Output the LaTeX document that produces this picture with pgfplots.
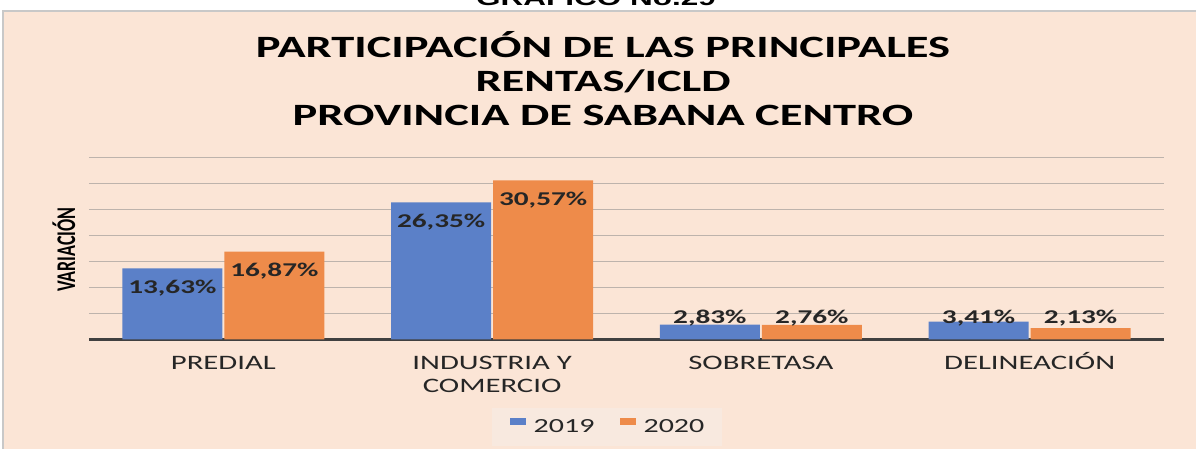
\documentclass[border=0pt]{standalone}
\usepackage{fontspec}
\setmainfont{Carlito}[FakeStretch=1.5]
\newfontfamily\plaincarlito{Carlito}
\newfontfamily\arialstretch{Liberation Sans}[FakeStretch=1.5]
\usepackage{graphicx}
\usepackage{pgfplots}
\pgfplotsset{compat=1.18}
\definecolor{peach}{HTML}{FBE5D6}
\definecolor{framegray}{HTML}{C8C8C8}
\definecolor{barblue}{HTML}{5B80C8}
\definecolor{barorange}{HTML}{EE8B4A}
\definecolor{gridgray}{HTML}{BDB3AC}
\definecolor{basegray}{HTML}{404040}
\definecolor{legbg}{HTML}{F8E9DF}
\definecolor{txt}{HTML}{262626}
\pgfplotsset{
  barlabels/.style={
    nodes near coords={\pgfmathprintnumber[fixed,fixed zerofill,precision=2,use comma,assume math mode=true]{\pgfplotspointmeta}\%},
    visualization depends on={rawy \as \rawy},
    every node near coord/.append style={anchor=center, text=txt,
      font=\bfseries\fontsize{9.75pt}{11pt}\selectfont,
      yshift={ifthenelse(\rawy>10,-10,(4-\rawy)*2.6)}},
  },
}
\begin{document}
\begin{tikzpicture}
\useasboundingbox (0pt,0pt) rectangle (598pt,224.5pt);
\clip (0pt,0pt) rectangle (598pt,224.5pt);
\fill[white] (0pt,0pt) rectangle (598pt,224.5pt);
\node[anchor=base, inner sep=0pt, font=\arialstretch\bfseries\fontsize{10.5pt}{12pt}\selectfont] at (298pt,221.75pt) {GRAFICO No.29};
\draw[framegray, line width=0.6pt, fill=peach] (1.5pt,219pt) rectangle (610pt,-10pt);
\node[anchor=base, inner sep=0pt, font=\bfseries\fontsize{15.5pt}{17pt}\selectfont] at (301.5pt,195.5pt) {PARTICIPACIÓN DE LAS PRINCIPALES};
\node[anchor=base, inner sep=0pt, font=\bfseries\fontsize{15.5pt}{17pt}\selectfont] at (301.5pt,178.5pt) {RENTAS/ICLD};
\node[anchor=base, inner sep=0pt, font=\bfseries\fontsize{15.5pt}{17pt}\selectfont] at (301.5pt,161.5pt) {PROVINCIA DE SABANA CENTRO};
\begin{axis}[
  at={(44.5pt,54.85pt)}, anchor=south west,
  scale only axis, width=537.5pt, height=91pt,
  xmin=-0.5, xmax=3.5, ymin=0, ymax=35,
  enlargelimits=false,
  ybar=1pt, bar width=50pt,
  xtick={0,1,2,3},
  xticklabels={\vphantom{Ó}PREDIAL, {\vphantom{Ó}INDUSTRIA Y\\COMERCIO}, \vphantom{Ó}SOBRETASA, \vphantom{Ó}DELINEACIÓN},
  ytick={5,10,...,35}, yticklabels={},
  ymajorgrids, grid style={gridgray, line width=0.75pt},
  major tick length=0pt,
  axis x line*=bottom, axis y line*=left,
  x axis line style={basegray, line width=1.5pt, -},
  y axis line style={draw=none},
  xticklabel style={anchor=north, yshift=-3.2pt, align=center, text=txt,
    font=\fontsize{10.25pt}{11.5pt}\selectfont},
  ylabel={\scalebox{1}[1.5]{\plaincarlito\bfseries\fontsize{9pt}{10pt}\selectfont VARIACIÓN}},
  ylabel style={at={(axis description cs:-0.02326,0.493)}, anchor=center, inner sep=0pt, text=black},
  legend columns=2,
  legend style={at={(0.4819,-0.4819)}, anchor=center, draw=none, fill=legbg,
    font=\fontsize{10pt}{12pt}\selectfont, text=txt,
    inner xsep=9pt, inner ysep=5pt,
    nodes={inner sep=0pt},
    /tikz/every odd column/.append style={column sep=4pt},
    /tikz/every even column/.append style={column sep=12.5pt}},
]
\addplot[fill=barblue, draw=none, barlabels,
  legend image code/.code={\fill[barblue] (0pt,1.45pt) rectangle (8pt,4.95pt);}]
  coordinates {(0,13.63) (1,26.35) (2,2.83) (3,3.41)};
\addplot[fill=barorange, draw=none, barlabels,
  legend image code/.code={\fill[barorange] (0pt,1.45pt) rectangle (8pt,4.95pt);}]
  coordinates {(0,16.87) (1,30.57) (2,2.76) (3,2.13)};
\legend{2019,2020}
\end{axis}
\end{tikzpicture}
\end{document}
